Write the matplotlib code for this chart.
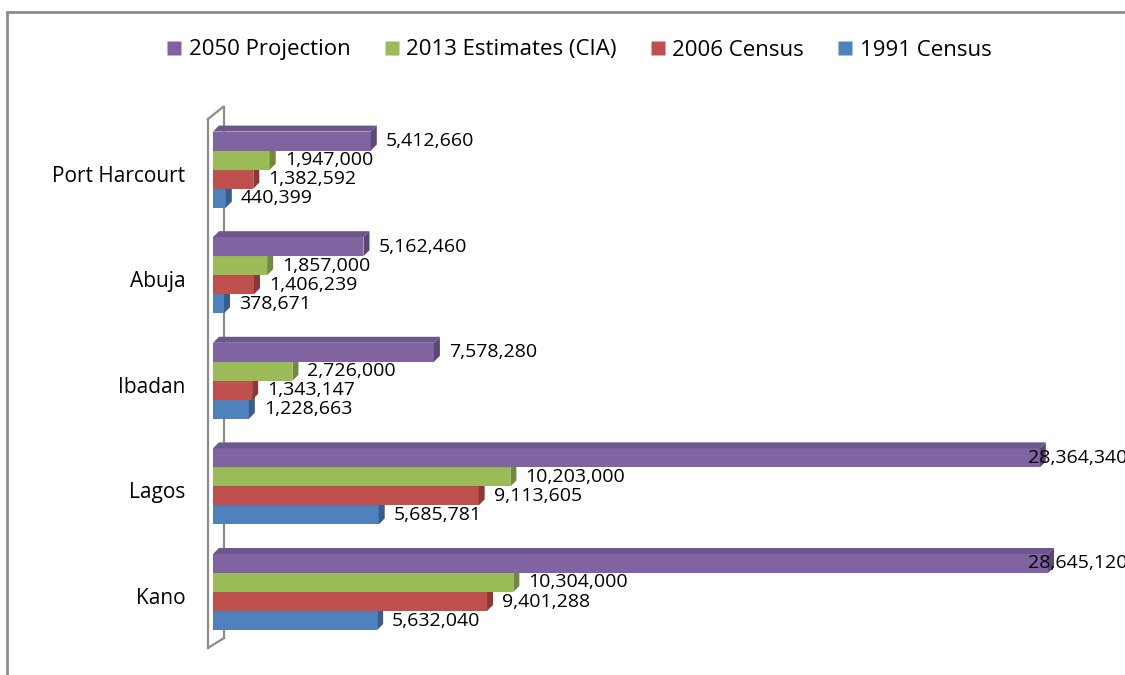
import matplotlib.pyplot as plt
from matplotlib.patches import Polygon, Rectangle
from matplotlib.lines import Line2D
from matplotlib.transforms import ScaledTranslation

# data, bottom to top as in the chart
cities = ['Kano', 'Lagos', 'Ibadan', 'Abuja', 'Port Harcourt']
census_1991 = [5632040, 5685781, 1228663, 378671, 440399]
census_2006 = [9401288, 9113605, 1343147, 1406239, 1382592]
estimates_2013 = [10304000, 10203000, 2726000, 1857000, 1947000]
projection_2050 = [28645120, 28364340, 7578280, 5162460, 5412660]

series = [census_1991, census_2006, estimates_2013, projection_2050]
names = ['1991 Census', '2006 Census', '2013 Estimates (CIA)', '2050 Projection']
colors = ['#4F81BD', '#C0504D', '#9BBB59', '#8064A2']
top_colors = ['#446FA3', '#A64542', '#86A34C', '#6D568C']
side_colors = ['#385D8A', '#8C3836', '#71893F', '#5C4776']

plt.rcParams['font.family'] = ['Open Sans', 'DejaVu Sans']

W, H = 1125, 675
fig = plt.figure(figsize=(11.25, 6.75), dpi=100)
ax_left, ax_top, ax_bottom = 213, 100, 650
ax = fig.add_axes([ax_left / W, 1 - ax_bottom / H, (W - ax_left) / W, (ax_bottom - ax_top) / H])

ppu = (1048 - 213) / 28645120  # pixels per person
ppy = 105.6                    # pixels per category step
xmax = (W - ax_left) / ppu
ax.set_xlim(0, xmax)
ax.set_ylim(-(ax_bottom - 592) / ppy, (592 - ax_top) / ppy)

h = 0.18
dx = 6 / ppu
dy = 6 / ppy
pad = 15 / ppu
label_cap = (1028 - ax_left) / ppu

for i in range(len(cities)):
    for s, vals in enumerate(series):
        v = vals[i]
        y = i + (s - 1.5) * h
        z = 3 + s
        ax.barh(y, v, height=h, color=colors[s], zorder=z)
        top = Polygon([(0, y + h / 2), (dx, y + h / 2 + dy), (v + dx, y + h / 2 + dy), (v, y + h / 2)],
                      closed=True, facecolor=top_colors[s], edgecolor='none', zorder=z)
        side = Polygon([(v, y - h / 2), (v + dx, y - h / 2 + dy), (v + dx, y + h / 2 + dy), (v, y + h / 2)],
                       closed=True, facecolor=side_colors[s], edgecolor='none', zorder=z)
        ax.add_patch(top)
        ax.add_patch(side)
        ax.text(min(v + pad, label_cap), y, f'{v:,}', ha='left', va='center',
                fontsize=14, color='black', zorder=10, clip_on=False)

# back wall of the 3D chart
def px(x, y):
    return ((x - ax_left) / (W - ax_left), (ax_bottom - y) / (ax_bottom - ax_top))

wall_col = '#8C8C8C'
for (x0, y0), (x1, y1), zo in [((208, 119), (208, 648), 1), ((208, 119), (223, 107), 1),
                               ((208, 648), (224, 638), 1), ((224, 107), (224, 638), 1)]:
    a, b = px(x0, y0), px(x1, y1)
    ax.add_line(Line2D([a[0], b[0]], [a[1], b[1]], transform=ax.transAxes, color=wall_col,
                       lw=1.6, clip_on=False, zorder=zo))

ax.set_yticks(range(len(cities)))
ax.set_yticklabels(cities, fontsize=15)
ax.tick_params(axis='y', length=0, pad=20)
shift = ScaledTranslation(0, -0.04, fig.dpi_scale_trans)
for lab in ax.get_yticklabels():
    lab.set_transform(lab.get_transform() + shift)
ax.set_xticks([])
for sp in ax.spines.values():
    sp.set_visible(False)
ax.patch.set_alpha(0)

# legend
handles = [Line2D([], [], marker='s', linestyle='none', markersize=9.5,
                  markerfacecolor=colors[s], markeredgecolor='none') for s in [3, 2, 1, 0]]
fig.legend(handles, [names[s] for s in [3, 2, 1, 0]], loc='center', ncol=4,
           bbox_to_anchor=(579 / W, 1 - 50 / H), frameon=False, fontsize=16,
           handlelength=0.7, handletextpad=0.3, columnspacing=1.5)

# outer chart border
fig.add_artist(Rectangle((7 / W, -0.1), 1.2, (H - 12) / H + 0.1, transform=fig.transFigure,
                         fill=False, edgecolor=wall_col, lw=2))

fig.savefig('out.png', dpi=100)
